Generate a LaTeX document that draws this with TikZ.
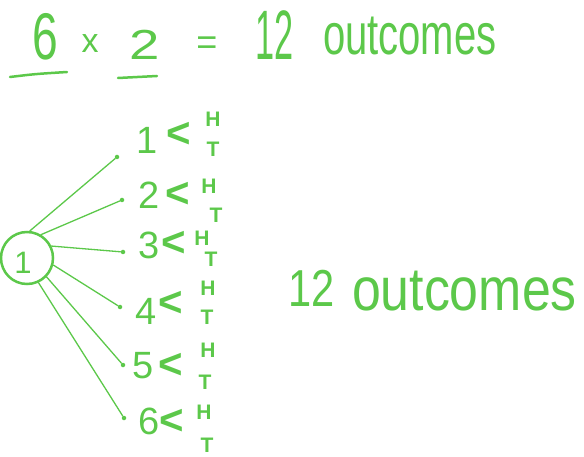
\documentclass[tikz,border=0pt]{standalone}
\usepackage{fontspec}
\setmainfont{Liberation Sans}
\definecolor{ink}{RGB}{92,200,74}
\begin{document}
\begin{tikzpicture}[x=1pt,y=-1pt,
  hw/.style={text=ink, inner sep=0pt, outer sep=0pt},
  f/.style={font=\fontsize{#1}{#1}\selectfont},
  stroke/.style={draw=ink, line width=2.5pt, line cap=round},
  branch/.style={draw=ink, line width=1.3pt, line cap=round},
  tip/.style={circle, fill=ink, inner sep=0pt, minimum size=4.5pt}]
\useasboundingbox (0,0) rectangle (584,457);
% top equation
\node[hw,f=66] (six) at (45,37) {\scalebox{0.7}[1]{6}};
\node[hw,f=34,anchor=base] (times) at (90,53) {x};
\node[hw,f=42] (two) at (145,45) {\scalebox{1.3}[1]{2}};
\node[hw,f=36,anchor=base] (eq) at (207,55) {=};
\node[hw,f=70,anchor=base west] (twelve) at (255,60) {\scalebox{0.49}[1]{12}};
\node[hw,f=58,anchor=base west] (out) at (323,55) {\scalebox{0.69}[1]{outcomes}};
\draw[stroke] (10,77) .. controls (35,74) .. (67,72);
\draw[stroke] (118,78) -- (157,76);
% tree
\node[draw=ink, line width=2.5pt, circle, minimum size=52pt, inner sep=0pt] (root) at (27,258) {};
\node[hw,f=31] (one) at (23,263) {1};
\foreach \i/\nx/\ny/\lx/\ly/\hx/\hy/\tx/\ty/\ex/\ey/\a in {
  1/147/140/179/135/213/119/213/149/117/157/84,
  2/149/195/178/195/209/186/216/215/122/200/59,
  3/149/245/174/244/202/238/211/259/123/252/26,
  4/146/311/171/304/208/288/207/317/120/307/345,
  5/143/366/171/366/208/350/205/382/123/365/316,
  6/149/421/172/422/204/412/207/445/124/418/295}{
  \node[hw,f=38] (n\i) at (\nx,\ny) {\i};
  \node[hw,f=42] (lt\i) at (\lx,\ly) {\textbf{<}};
  \node[hw,f=21] (h\i) at (\hx,\hy) {\textbf{H}};
  \node[hw,f=21] (t\i) at (\tx,\ty) {\textbf{T}};
  \node[tip] (e\i) at (\ex,\ey) {};
  \draw[branch] (root.\a) -- (e\i);
}
% right label
\node[hw,f=52,anchor=base west] (twelveB) at (288,307) {\scalebox{0.8}[1]{12}};
\node[hw,f=61,anchor=base west] (outB) at (352,310) {\scalebox{0.85}[1]{outcomes}};
\end{tikzpicture}
\end{document}
